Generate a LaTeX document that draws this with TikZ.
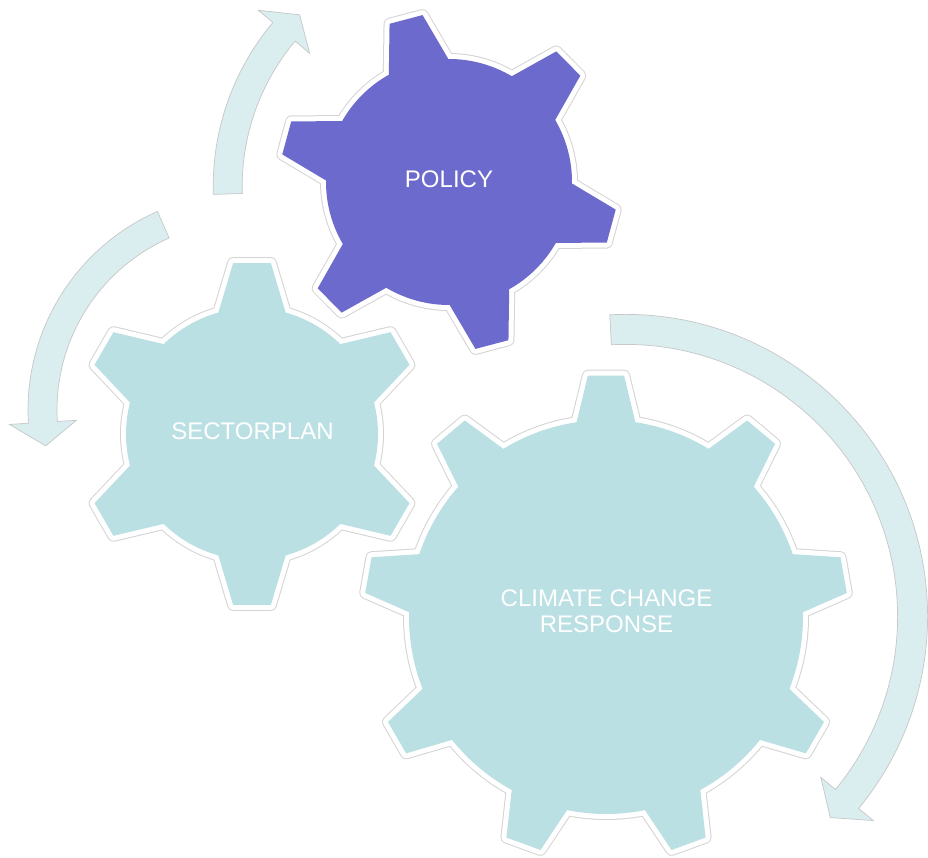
\documentclass[tikz,border=0pt]{standalone}
\usepackage{fontspec}
\setmainfont{Liberation Sans}
\definecolor{gearblue}{HTML}{BBE0E3}
\definecolor{gearpurple}{HTML}{6C6ACD}
\definecolor{arrowblue}{HTML}{DAEDEF}
\tikzset{
  gearstyle/.style={preaction={draw=black!17, line width=12pt, line join=round},
                    preaction={draw=white, line width=10pt, line join=round}},
  arrowstyle/.style={fill=arrowblue, draw=black!22, line width=0.7pt, line join=miter},
  lbl/.style={font=\fontsize{24}{26}\selectfont, text=white, align=center, inner sep=0pt}
}
% cx, cy, N, phase, Rout, Rin, tip half-angle, base half-angle, colour
\newcommand{\drawgear}[9]{%
  \begin{scope}[shift={(#1,#2)}]
    \pgfmathsetmacro{\gstep}{360/#3}
    \path[gearstyle, fill=#9] ({#4-#8}:#6)
      \foreach \k in {1,...,#3}{
        -- ({#4+(\k-1)*\gstep-#7}:#5) -- ({#4+(\k-1)*\gstep+#7}:#5)
        -- ({#4+(\k-1)*\gstep+#8}:#6)
        arc[start angle={#4+(\k-1)*\gstep+#8}, end angle={#4+\k*\gstep-#8}, radius=#6]
      } -- cycle;
  \end{scope}}
% curved arrow: cx, cy, Rout, Rin, start angle, head angle, tip angle
\newcommand{\drawcarrow}[7]{%
  \begin{scope}[shift={(#1,#2)}]
    \pgfmathsetmacro{\bo}{#3+19}
    \pgfmathsetmacro{\bi}{#4-19}
    \pgfmathsetmacro{\rm}{(#3+#4)/2}
    \path[arrowstyle] (#5:#3) arc[start angle=#5, end angle=#6, radius=#3]
      -- (#6:\bo) -- (#7:\rm) -- (#6:\bi) -- (#6:#4)
      arc[start angle=#6, end angle=#5, radius=#4] -- cycle;
  \end{scope}}
\begin{document}
\begin{tikzpicture}[x=1pt, y=-1pt]
  \useasboundingbox (0,0) rectangle (928,858);
  \fill[white] (0,0) rectangle (928,858);

  % curved arrows
  \drawcarrow{468.2}{186.4}{255}{226}{178.2}{220}{225.5}
  \drawcarrow{245}{410}{217}{188}{246.2}{176.5}{169.8}
  \drawcarrow{625.6}{616.4}{302}{272}{-93}{39.5}{44.5}

  % gears
  \drawgear{449}{182}{6}{-104.8}{169}{123}{5.8}{14.5}{gearpurple}
  \drawgear{252}{434}{6}{-90}{172}{126}{6.3}{15.5}{gearblue}
  \drawgear{606}{617}{9}{-90}{242}{197}{4.3}{8.6}{gearblue}

  % labels
  \node[lbl, anchor=base] (policy) at (449,188) {POLICY};
  \node[lbl, anchor=base] (sector) at (252.5,439) {SECTORPLAN};
  \node[lbl] (climate) at (606.5,611) {CLIMATE CHANGE\\RESPONSE};
\end{tikzpicture}
\end{document}
